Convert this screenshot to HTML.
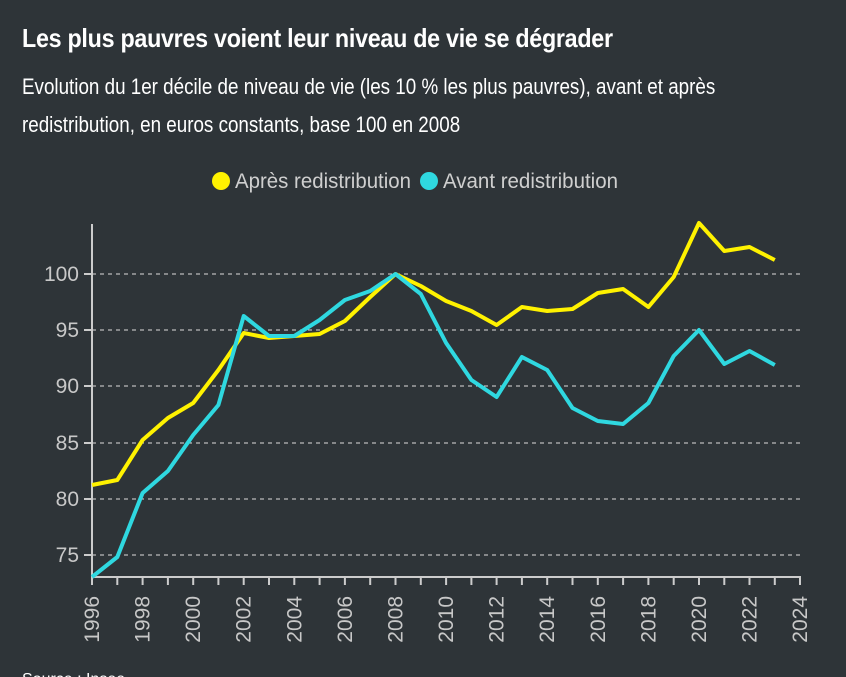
<!DOCTYPE html><html><head><meta charset="utf-8"><style>
body{margin:0;width:846px;height:677px;background:#2e3438;overflow:hidden;font-family:"Liberation Sans Narrow","Liberation Sans",sans-serif}
.t{position:absolute;left:22px;top:23px;color:#fff;font-weight:bold;font-size:26px;letter-spacing:-0.3px;transform:scaleX(0.895);transform-origin:0 0;white-space:nowrap}
.s{position:absolute;left:22px;top:68px;color:#fff;font-size:22px;line-height:38px;transform:scaleX(0.855);transform-origin:0 0;white-space:nowrap}
svg{position:absolute;left:0;top:0}
</style></head><body>
<div class="t">Les plus pauvres voient leur niveau de vie se dégrader</div>
<div class="s">Evolution du 1er décile de niveau de vie (les 10 % les plus pauvres), avant et après<br>redistribution, en euros constants, base 100 en 2008</div>
<svg width="846" height="677" font-family="Liberation Sans Narrow, Liberation Sans, sans-serif">
<circle cx="221" cy="181" r="9" fill="#fff200"/>
<text x="235" y="188" fill="#cfcfcf" font-size="21" textLength="176" lengthAdjust="spacingAndGlyphs">Après redistribution</text>
<circle cx="429" cy="181" r="9" fill="#2fd8e0"/>
<text x="443" y="188" fill="#cfcfcf" font-size="21" textLength="175" lengthAdjust="spacingAndGlyphs">Avant redistribution</text>
<g stroke="#ddd" stroke-dasharray="4,4" stroke-width="1">
<line x1="92" x2="800" y1="274" y2="274"/><line x1="92" x2="800" y1="330" y2="330"/><line x1="92" x2="800" y1="386" y2="386"/><line x1="92" x2="800" y1="443" y2="443"/><line x1="92" x2="800" y1="499" y2="499"/><line x1="92" x2="800" y1="555" y2="555"/></g>
<g stroke="#ccc" stroke-width="2"><line x1="92" y1="224" x2="92" y2="578"/><line x1="91" y1="577" x2="801" y2="577"/>
<line x1="84" x2="92" y1="274" y2="274"/><line x1="84" x2="92" y1="330" y2="330"/><line x1="84" x2="92" y1="386" y2="386"/><line x1="84" x2="92" y1="443" y2="443"/><line x1="84" x2="92" y1="499" y2="499"/><line x1="84" x2="92" y1="555" y2="555"/>
<path d="M92 577v8M117.3 577v8M142.6 577v8M167.9 577v8M193.2 577v8M218.4 577v8M243.7 577v8M269 577v8M294.3 577v8M319.6 577v8M344.9 577v8M370.2 577v8M395.5 577v8M420.8 577v8M446.1 577v8M471.4 577v8M496.6 577v8M521.9 577v8M547.2 577v8M572.5 577v8M597.8 577v8M623.1 577v8M648.4 577v8M673.7 577v8M699 577v8M724.3 577v8M749.5 577v8M774.8 577v8M800 577v8"/></g>
<g fill="#c8c8c8" font-size="21" text-anchor="end">
<text x="79" y="281">100</text><text x="79" y="337">95</text><text x="79" y="393">90</text><text x="79" y="450">85</text><text x="79" y="506">80</text><text x="79" y="562">75</text></g>
<g fill="#c8c8c8" font-size="21" text-anchor="end">
<text transform="translate(99,596) rotate(-90)">1996</text><text transform="translate(149.6,596) rotate(-90)">1998</text><text transform="translate(200.2,596) rotate(-90)">2000</text><text transform="translate(250.7,596) rotate(-90)">2002</text><text transform="translate(301.3,596) rotate(-90)">2004</text><text transform="translate(351.9,596) rotate(-90)">2006</text><text transform="translate(402.5,596) rotate(-90)">2008</text><text transform="translate(453.1,596) rotate(-90)">2010</text><text transform="translate(503.6,596) rotate(-90)">2012</text><text transform="translate(554.2,596) rotate(-90)">2014</text><text transform="translate(604.8,596) rotate(-90)">2016</text><text transform="translate(655.4,596) rotate(-90)">2018</text><text transform="translate(706,596) rotate(-90)">2020</text><text transform="translate(756.5,596) rotate(-90)">2022</text><text transform="translate(807,596) rotate(-90)">2024</text></g>
<polyline fill="none" stroke="#fff200" stroke-width="4" stroke-linejoin="round" points="92,485 117.3,480 142.6,440 167.9,418 193.2,403 218.4,370 243.7,333 269,338 294.3,336 319.6,334 344.9,321 370.2,297 395.5,274 420.8,286 446.1,301 471.4,311 496.6,325 521.9,307 547.2,311 572.5,309 597.8,293 623.1,289 648.4,307 673.7,277 699,223 724.3,251 749.5,247 774.8,260"/>
<polyline fill="none" stroke="#2fd8e0" stroke-width="4" stroke-linejoin="round" points="92,577 117.3,557 142.6,493 167.9,471 193.2,435 218.4,405 243.7,316 269,336 294.3,336 319.6,320 344.9,300 370.2,291 395.5,274 420.8,294 446.1,343 471.4,380 496.6,397 521.9,357 547.2,370 572.5,408 597.8,421 623.1,424 648.4,403 673.7,356 699,330 724.3,364 749.5,351 774.8,365"/>
<text x="22" y="684" fill="#fff" font-size="16">Source : Insee</text>
</svg>
</body></html>
